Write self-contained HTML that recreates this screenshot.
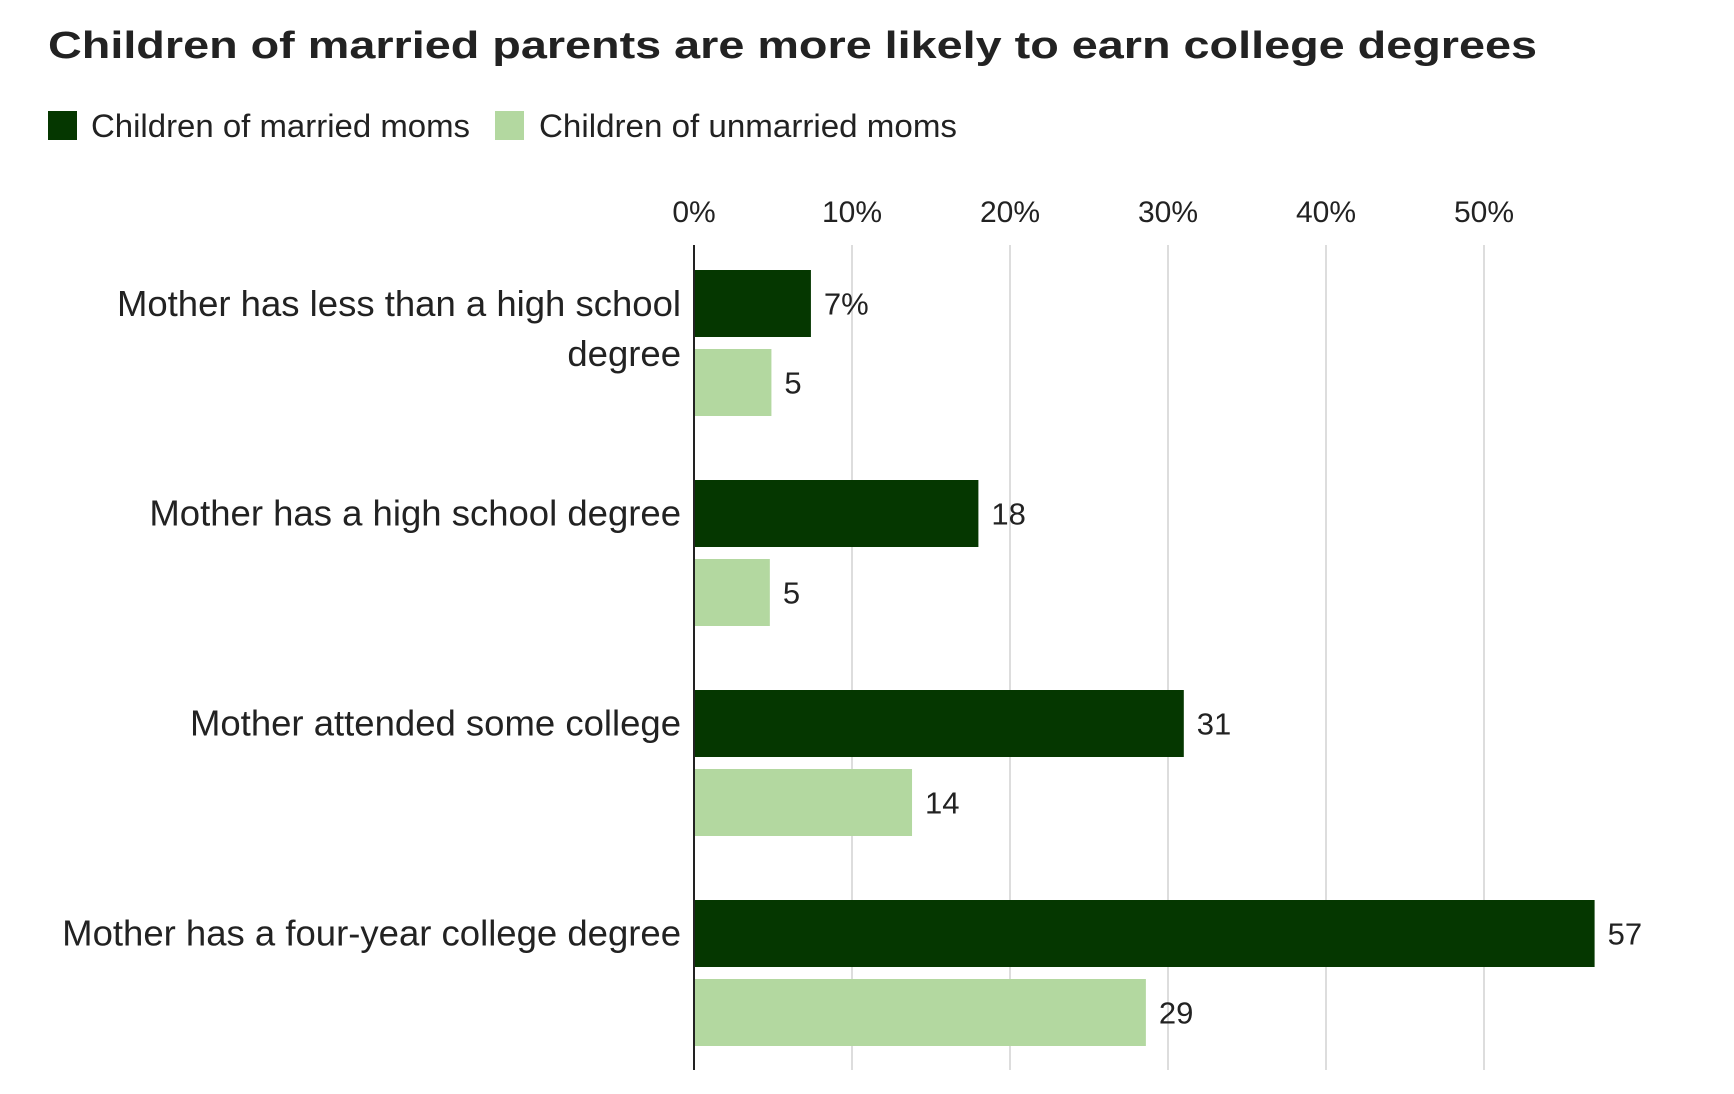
<!DOCTYPE html>
<html><head><meta charset="utf-8"><style>
html,body{margin:0;padding:0;background:#fff;}
svg{display:block;font-family:"Liberation Sans",sans-serif;}
</style></head><body>
<svg id="chart" width="1734" height="1094" viewBox="0 0 1734 1094">
<text x="48" y="58" font-size="38" font-weight="bold" fill="#222" textLength="1489" lengthAdjust="spacingAndGlyphs">Children of married parents are more likely to earn college degrees</text>
<g>
<rect x="48" y="111" width="29" height="29" fill="#053700"/>
<text x="91" y="137" font-size="32" fill="#222" textLength="379" lengthAdjust="spacingAndGlyphs">Children of married moms</text>
<rect x="495" y="111" width="29" height="29" fill="#b3d8a0"/>
<text x="539" y="137" font-size="32" fill="#222" textLength="418" lengthAdjust="spacingAndGlyphs">Children of unmarried moms</text>
</g>
<g id="grid"></g><g id="bars"></g><g id="labels"></g>
</svg>
<script>
const categories = [["Mother has less than a high school","degree"],["Mother has a high school degree"],["Mother attended some college"],["Mother has a four-year college degree"]];
const married = [7.4, 18, 31, 57];
const unmarried = [4.9, 4.8, 13.8, 28.6];
const ticks = [0, 10, 20, 30, 40, 50];
const tickLabels = ["0%","10%","20%","30%","40%","50%"];
const marriedLabels = ["7%","18","31","57"];
const unmarriedLabels = ["5","5","14","29"];

const NS = "http://www.w3.org/2000/svg";
const x0 = 694, pxPer = 15.8;
const xs = v => x0 + v * pxPer;
const groupTop = i => 270 + i * 210;
const barH = 67;
function mk(tag, attrs, parent, txt){
  const e = document.createElementNS(NS, tag);
  for (const k in attrs) e.setAttribute(k, attrs[k]);
  if (txt !== undefined) e.textContent = txt;
  parent.appendChild(e); return e;
}
const grid = document.getElementById('grid');
const bars = document.getElementById('bars');
const labels = document.getElementById('labels');
ticks.forEach((t, i) => {
  if (t > 0) {
    const l = mk('line', {x1: xs(t), x2: xs(t), y1: 245, y2: 1070, stroke: '#dddddd', 'stroke-width': 2}, grid);
    
    
  }
  const tl = mk('text', {x: xs(t), y: 222, 'font-size': 30, fill: '#222', 'text-anchor': 'middle'}, grid, tickLabels[i]);
  
  
});
categories.forEach((c, i) => {
  const y = groupTop(i);
  const b1 = mk('rect', {x: x0, y: y, width: xs(married[i]) - x0, height: barH, fill: '#053700'}, bars);
  
  
  const b2 = mk('rect', {x: x0, y: y + barH + 12, width: xs(unmarried[i]) - x0, height: barH, fill: '#b3d8a0'}, bars);
  
  
  const v1 = mk('text', {x: xs(married[i]) + 13, y: y + barH/2 + 11, 'font-size': 31, fill: '#222'}, labels, marriedLabels[i]);
  
  
  const v2 = mk('text', {x: xs(unmarried[i]) + 13, y: y + barH*1.5 + 23, 'font-size': 31, fill: '#222'}, labels, unmarriedLabels[i]);
  
  
  const cy = c.length > 1 ? y + 46 : y + barH/2 + 12;
  c.forEach((line, j) => {
    const t = mk('text', {x: 681, y: cy + j*50, 'font-size': 36.5, fill: '#222', 'text-anchor': 'end'}, labels, line);
    
    
  });
});
const ax = mk('line', {x1: x0, x2: x0, y1: 245, y2: 1070, stroke: '#222', 'stroke-width': 2}, labels);


</script>
</body></html>
